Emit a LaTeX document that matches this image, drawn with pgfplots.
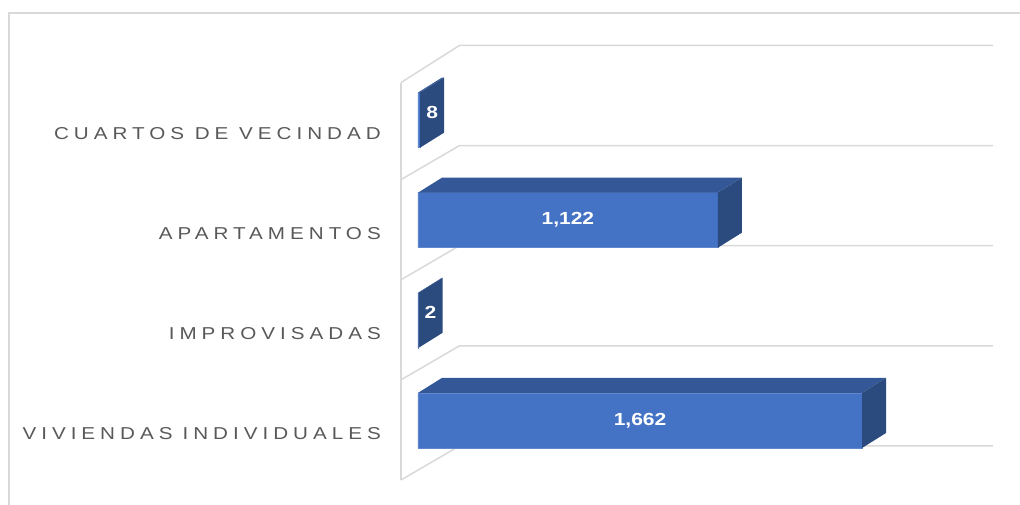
\documentclass[border=0pt]{standalone}
\usepackage{fontspec}
\setmainfont{Liberation Sans}
\newfontfamily\catfont[LetterSpace=29,FakeStretch=1.2]{Liberation Sans}
\newfontfamily\valfont[FakeStretch=1.2]{Liberation Sans}
\usepackage{pgfplots}
\pgfplotsset{compat=1.18}
\definecolor{frontblue}{HTML}{4472C4}
\definecolor{topblue}{HTML}{345897}
\definecolor{sideblue}{HTML}{2B4A7E}
\definecolor{gridgray}{HTML}{D9D9D9}
\definecolor{labelgray}{HTML}{595959}

\begin{document}
\begin{tikzpicture}
\useasboundingbox (0,0) rectangle (1020pt,505pt);
\draw[gridgray, line width=1.5pt] (9pt,0) -- (9pt,492pt) -- (1020pt,492pt);
\begin{axis}[
    at={(401pt,22pt)},
    anchor=south west,
    scale only axis,
    width=592pt,
    height=437.5pt,
    xmin=-63.6, xmax=2152,
    ymin=-0.625, ymax=3.745,
    clip=false,
    axis line style={draw=none},
    xtick=\empty,
    ytick={-0.13,0.87,1.87,2.87},
    yticklabels={VIVIENDAS\hspace{10pt}INDIVIDUALES,IMPROVISADAS,APARTAMENTOS,CUARTOS DE VECINDAD},
    major tick length=0pt,
    yticklabel style={anchor=east, inner sep=0pt, xshift=-20pt,
        font=\catfont\fontsize{17.2}{19}\selectfont, text=labelgray},
]
% perspective grid (front wall point -> back wall point -> right end)
\addplot[gridgray, line width=1.5pt, mark=none] coordinates {(-63.6,-0.595) (155,-0.255) (2152,-0.255)};
\addplot[gridgray, line width=1.5pt, mark=none] coordinates {(-63.6,0.405) (155,0.745) (2152,0.745)};
\addplot[gridgray, line width=1.5pt, mark=none] coordinates {(-63.6,1.405) (155,1.745) (2152,1.745)};
\addplot[gridgray, line width=1.5pt, mark=none] coordinates {(-63.6,2.405) (155,2.745) (2152,2.745)};
\addplot[gridgray, line width=1.5pt, mark=none] coordinates {(-63.6,3.375) (155,3.745) (2152,3.745)};
\addplot[gridgray, line width=1.5pt, mark=none] coordinates {(-63.6,-0.595) (-63.6,3.375)};

% front faces
\addplot[xbar, bar width=55pt, bar shift=0pt, fill=frontblue, draw=frontblue!85!white, line width=0.5pt]
    coordinates {(1662,0) (2,1) (1122,2) (8,3)};

% top faces
\addplot[fill=topblue, draw=none, mark=none] coordinates {(0,0.275) (1662,0.275) (1752,0.425) (90,0.425)} -- cycle;
\addplot[fill=topblue, draw=none, mark=none] coordinates {(0,1.275) (2,1.275) (92,1.425) (90,1.425)} -- cycle;
\addplot[fill=topblue, draw=none, mark=none] coordinates {(0,2.275) (1122,2.275) (1212,2.425) (90,2.425)} -- cycle;
\addplot[fill=topblue, draw=none, mark=none] coordinates {(0,3.275) (8,3.275) (98,3.425) (90,3.425)} -- cycle;

% side faces
\addplot[fill=sideblue, draw=none, mark=none] coordinates {(1662,-0.275) (1752,-0.125) (1752,0.425) (1662,0.275)} -- cycle;
\addplot[fill=sideblue, draw=none, mark=none] coordinates {(2,0.725) (92,0.875) (92,1.425) (2,1.275)} -- cycle;
\addplot[fill=sideblue, draw=none, mark=none] coordinates {(1122,1.725) (1212,1.875) (1212,2.425) (1122,2.275)} -- cycle;
\addplot[fill=sideblue, draw=none, mark=none] coordinates {(8,2.725) (98,2.875) (98,3.425) (8,3.275)} -- cycle;

% value labels
\node[text=white, font=\valfont\bfseries\fontsize{17.5}{20}\selectfont] at (axis cs:831,0) {1,662};
\node[text=white, font=\valfont\bfseries\fontsize{17.5}{20}\selectfont] at (axis cs:47,1.075) {2};
\node[text=white, font=\valfont\bfseries\fontsize{17.5}{20}\selectfont] at (axis cs:561,2) {1,122};
\node[text=white, font=\valfont\bfseries\fontsize{17.5}{20}\selectfont] at (axis cs:53,3.075) {8};
\end{axis}
\end{tikzpicture}
\end{document}
